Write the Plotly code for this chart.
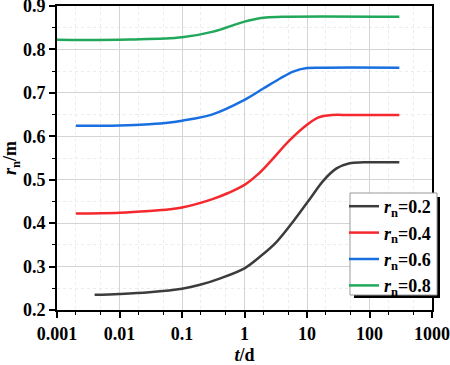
import plotly.graph_objects as go

# Data
t_02 = [0.004, 0.01, 0.03, 0.1, 0.194, 0.41, 1, 1.78, 3.27, 6.1, 11.4, 18.3, 29.7, 48, 80, 300]
r_02 = [0.235, 0.237, 0.241, 0.249, 0.258, 0.273, 0.296, 0.323, 0.357, 0.405, 0.458, 0.498, 0.526, 0.538, 0.540, 0.540]

t_04 = [0.002, 0.01, 0.03, 0.064, 0.1, 0.316, 0.56, 1, 1.6, 2.56, 5.3, 9.9, 15, 25, 50, 300]
r_04 = [0.422, 0.424, 0.428, 0.432, 0.436, 0.456, 0.470, 0.488, 0.511, 0.541, 0.591, 0.626, 0.643, 0.649, 0.649, 0.649]

t_06 = [0.002, 0.01, 0.03, 0.064, 0.1, 0.3, 1, 2, 3.7, 6, 10, 20, 300]
r_06 = [0.624, 0.625, 0.628, 0.632, 0.636, 0.650, 0.684, 0.710, 0.733, 0.749, 0.757, 0.758, 0.758]

t_08 = [0.001, 0.0147, 0.1, 0.316, 1, 2, 4, 300]
r_08 = [0.822, 0.823, 0.828, 0.841, 0.864, 0.873, 0.875, 0.875]

series = [
    ("<i>r</i><sub>n</sub>=0.2", t_02, r_02, "#3c3c3c"),
    ("<i>r</i><sub>n</sub>=0.4", t_04, r_04, "#f5282d"),
    ("<i>r</i><sub>n</sub>=0.6", t_06, r_06, "#1a6fe0"),
    ("<i>r</i><sub>n</sub>=0.8", t_08, r_08, "#22a85a"),
]

x_ticks = [0.001, 0.01, 0.1, 1, 10, 100, 1000]
x_labels = ["0.001", "0.01", "0.1", "1", "10", "100", "1000"]
y_ticks = [0.2, 0.3, 0.4, 0.5, 0.6, 0.7, 0.8, 0.9]

FONT = "Liberation Serif"

fig = go.Figure()
for name, t, r, c in series:
    fig.add_trace(go.Scatter(x=t, y=r, mode="lines", name=name,
                             line=dict(color=c, width=2.5, shape="spline", smoothing=1.0)))

axis_common = dict(
    showline=True, linecolor="black", linewidth=2, mirror=True,
    ticks="outside", tickcolor="black", tickwidth=1.5, ticklen=6,
    showgrid=True, gridcolor="#d4d4d4", gridwidth=1,
    tickfont=dict(family=FONT, size=18, color="black", weight="bold"),
    zeroline=False, automargin=False, ticklabeloverflow="allow",
)

fig.update_xaxes(type="log", range=[-3, 3], tickvals=x_ticks, ticktext=x_labels,
                 minor=dict(ticks="outside", ticklen=3, tickcolor="black", tickwidth=1,
                            showgrid=True, gridcolor="#ececec", griddash="dot"),
                 title=dict(text="<i>t</i>/d", font=dict(family=FONT, size=18, color="black", weight="bold")),
                 **axis_common)
fig.update_yaxes(range=[0.2, 0.9], tickvals=y_ticks, tickformat=".1f",
                 minor=dict(ticks="outside", ticklen=3, tickcolor="black", tickwidth=1,
                            dtick=0.05, showgrid=True, gridcolor="#ececec", griddash="dot"),
                 title=dict(text="<i>r</i><sub>n</sub>/m", font=dict(family=FONT, size=18, color="black", weight="bold")),
                 **axis_common)

# legend box with shadow (pixel geometry converted to paper coords)
L, R, T, B = 57, 18, 6, 55
W, H = 450 - L - R, 365 - T - B
def px(x): return (x - L) / W
def py(y): return (365 - B - y) / H

fig.add_shape(type="rect", xref="paper", yref="paper",
              x0=px(354), x1=px(440), y0=py(298), y1=py(197),
              fillcolor="black", line=dict(width=0), layer="above")
fig.add_shape(type="rect", xref="paper", yref="paper",
              x0=px(350), x1=px(437), y0=py(295), y1=py(193),
              fillcolor="white", line=dict(color="#999999", width=1), layer="above")

fig.update_layout(
    width=450, height=365,
    margin=dict(l=L, r=R, t=T, b=B, autoexpand=False),
    paper_bgcolor="white", plot_bgcolor="white",
    font=dict(family=FONT, size=18, color="black"),
    showlegend=True,
    legend=dict(x=px(344), y=py(188), xanchor="left", yanchor="top",
                bgcolor="rgba(0,0,0,0)", borderwidth=0,
                font=dict(family=FONT, size=18, color="black", weight="bold"),
                tracegroupgap=0, itemwidth=30),
)

fig.write_html("out.html", config={"displayModeBar": False},
               post_script="document.body.style.margin='0';document.body.style.overflow='hidden';")
